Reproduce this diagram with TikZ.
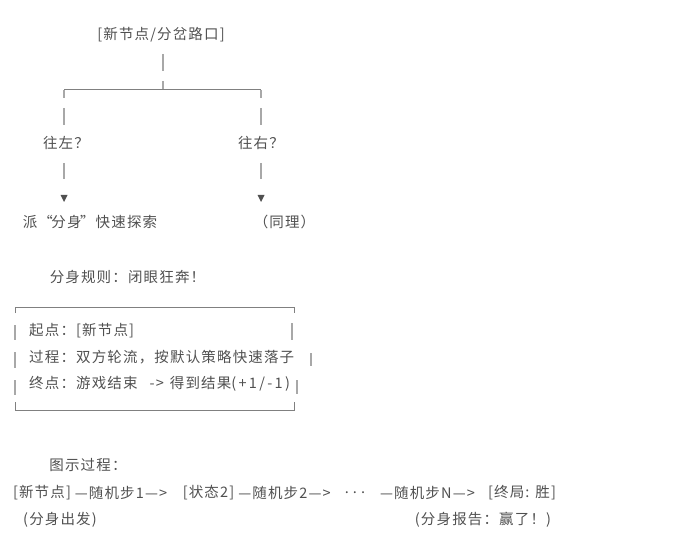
\documentclass[tikz,border=0pt]{standalone}
\usepackage{fontspec}
\setmainfont{Noto Sans CJK SC}[LetterSpace=8]
\newcommand{\wideascii}[1]{{\addfontfeature{LetterSpace=16}#1}}
\definecolor{txtgray}{HTML}{505050}
\definecolor{bargray}{HTML}{A8A8A8}
\definecolor{linegray}{HTML}{808080}
\tikzset{
  txt/.style={text=txtgray, inner sep=0pt, font=\fontsize{14.5}{16}\selectfont},
  bar/.style={draw=bargray, line width=1.2pt},
  hline/.style={draw=linegray, line width=1pt},
  tri/.style={fill=txtgray}
}
\begin{document}
\begin{tikzpicture}[x=1pt, y=-1pt]
\useasboundingbox (0,0) rectangle (677,540);
% top tree
\node[txt] (root) at (161,35) {[新节点/分岔路口]};
\node[txt] (left) at (66,143) {往左？};
\node[txt] (right) at (261,143) {往右？};
\node[txt] (lres) at (90,222) {派“\kern-1.5pt 分身\kern-1.5pt ”快速探索};
\node[txt] (rres) at (284.5,222) {（同理）};
\coordinate (stem) at (163,90);
\coordinate (lc) at (64,90);
\coordinate (rc) at (261,90);
\draw[bar] (163,54) -- (163,71);
\draw[bar] (163,81) -- (stem);
\draw[hline] (lc) -- (rc);
\draw[bar] (lc) -- (64,98);
\draw[bar] (rc) -- (261,98);
\draw[bar] (64,108) -- (64,125);
\draw[bar] (261,108) -- (261,125);
\draw[bar] (64,163) -- (64,179);
\draw[bar] (261,163) -- (261,179);
\fill[tri] (60.5,195) -- (67.5,195) -- (64,202) -- cycle;
\fill[tri] (257.5,195) -- (264.5,195) -- (261,202) -- cycle;
% rules box
\node[txt] (rule) at (127.5,277) {分身规则：闭眼狂奔！};
\node[txt, anchor=west] (l1) at (29,331) {起点：[新节点]};
\node[txt, anchor=west] (l2) at (29,357) {过程：双方轮流，按默认策略快速落子};
\node[txt, anchor=west] (l3) at (29,384) {终点：游戏结束\hspace{12pt}->\hspace{6pt}得到结果\wideascii{(+1/-1)}};
\draw[hline] (15,313) -- (15,307) -- (294,307) -- (294,313);
\draw[hline] (15,402) -- (15,410) -- (294,410) -- (294,402);
\draw[bar] (15,325) -- (15,340);
\draw[bar] (15,352) -- (15,368);
\draw[bar] (15,380) -- (15,395);
\draw[bar] (292,323) -- (292,340);
\draw[bar] (311,353) -- (311,366);
\draw[bar] (297,380) -- (297,394);
% process
\node[txt] (proc) at (88,465) {图示过程：};
\node[txt] (s1) at (42,493) {[新节点]};
\node[txt] (a1) at (121,493) {—随机步1—>};
\node[txt] (s2) at (208.5,493) {[状态2]};
\node[txt] (a2) at (284.5,493) {—随机步2—>};
\node[txt] (dots) at (355,493) {.\hspace{4pt}.\hspace{4pt}.};
\node[txt] (a3) at (427.5,493) {—随机步N—>};
\node[txt] (s3) at (522,493) {[终局: 胜]};
\node[txt] (c1) at (60,520) {(分身出发)};
\node[txt] (c2) at (483,520) {(分身报告：赢了！)};
\end{tikzpicture}
\end{document}
